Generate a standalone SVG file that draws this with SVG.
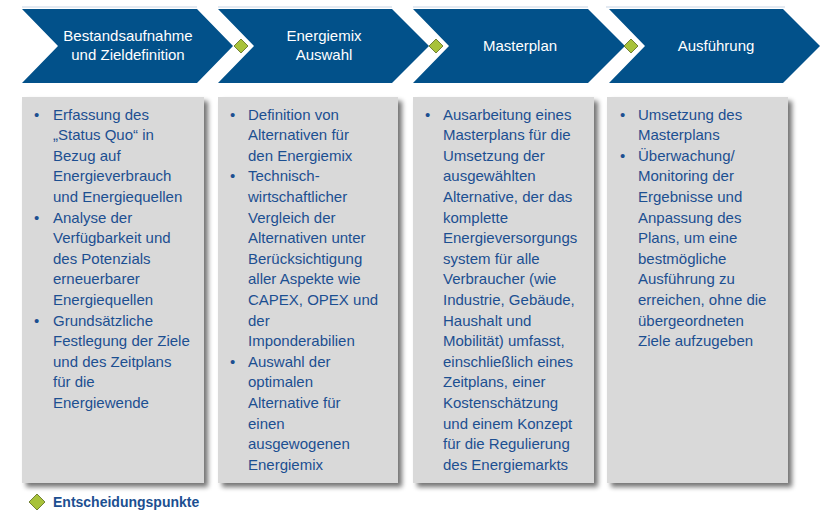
<svg xmlns="http://www.w3.org/2000/svg" width="820" height="512" viewBox="0 0 820 512">
<defs>
<filter id="sh" x="-10%" y="-10%" width="125%" height="125%">
<feGaussianBlur in="SourceAlpha" stdDeviation="2.5"/>
<feOffset dx="4" dy="4" result="b"/>
<feComponentTransfer><feFuncA type="linear" slope="0.55"/></feComponentTransfer>
<feMerge><feMergeNode/><feMergeNode in="SourceGraphic"/></feMerge>
</filter>
</defs>
<style>
.chev{fill:#02518a}
.topline{stroke:#c9d6e6;stroke-width:1.2}
.hd{font-family:"Liberation Sans",Arial,sans-serif;font-size:15px;fill:#ffffff;text-anchor:middle}
.box{fill:#d9d9d9}
.tx{font-family:"Liberation Sans",Arial,sans-serif;font-size:15px;fill:#1c4f91}
.dm{fill:#a8c23a;stroke:#5b6a1c;stroke-width:0.8}
.lg{font-family:"Liberation Sans",Arial,sans-serif;font-size:14px;font-weight:bold;fill:#1c4f91}
</style>
<rect width="820" height="512" fill="#ffffff"/>
<g id="toplines">
<line class="topline" x1="22" y1="7" x2="197" y2="7"/>
<line class="topline" x1="218" y1="7" x2="392" y2="7"/>
<line class="topline" x1="413" y1="7" x2="588" y2="7"/>
<line class="topline" x1="606" y1="7" x2="785" y2="7"/>
</g>
<g id="phase1">
<polygon class="chev" points="22,9 197,9 233,46 197,83 22,83 58,46"/>
<text class="hd" x="128" y="41">Bestandsaufnahme</text>
<text class="hd" x="128" y="60">und Zieldefinition</text>
</g>
<g id="phase2">
<polygon class="chev" points="218,9 392,9 429,46 392,83 218,83 254,46"/>
<text class="hd" x="324" y="41">Energiemix</text>
<text class="hd" x="324" y="60">Auswahl</text>
</g>
<g id="phase3">
<polygon class="chev" points="413,9 588,9 625,46 588,83 413,83 449,46"/>
<text class="hd" x="520" y="51">Masterplan</text>
</g>
<g id="phase4">
<polygon class="chev" points="609,9 783,9 820,46 783,83 609,83 645,46"/>
<text class="hd" x="716" y="51">Ausführung</text>
</g>
<g id="decisions">
<polygon class="dm" points="241,39 248,46 241,53 234,46"/>
<polygon class="dm" points="436,39 443,46 436,53 429,46"/>
<polygon class="dm" points="631,39 638,46 631,53 624,46"/>
</g>
<g id="box1">
<rect class="box" x="22" y="97" width="182" height="386" filter="url(#sh)"/>
<text class="tx" x="53" y="119.5">
<tspan x="53">Erfassung des</tspan>
<tspan x="53" dy="20.6">„Status Quo“ in</tspan>
<tspan x="53" dy="20.6">Bezug auf</tspan>
<tspan x="53" dy="20.6">Energieverbrauch</tspan>
<tspan x="53" dy="20.6">und Energiequellen</tspan>
<tspan x="53" dy="20.6">Analyse der</tspan>
<tspan x="53" dy="20.6">Verfügbarkeit und</tspan>
<tspan x="53" dy="20.6">des Potenzials</tspan>
<tspan x="53" dy="20.6">erneuerbarer</tspan>
<tspan x="53" dy="20.6">Energiequellen</tspan>
<tspan x="53" dy="20.6">Grundsätzliche</tspan>
<tspan x="53" dy="20.6">Festlegung der Ziele</tspan>
<tspan x="53" dy="20.6">und des Zeitplans</tspan>
<tspan x="53" dy="20.6">für die</tspan>
<tspan x="53" dy="20.6">Energiewende</tspan>
</text>
<text class="tx" x="34" y="119.5">•</text>
<text class="tx" x="34" y="222.5">•</text>
<text class="tx" x="34" y="325.5">•</text>
</g>
<g id="box2">
<rect class="box" x="218" y="97" width="180" height="386" filter="url(#sh)"/>
<text class="tx" x="248" y="119.5">
<tspan x="248">Definition von</tspan>
<tspan x="248" dy="20.6">Alternativen für</tspan>
<tspan x="248" dy="20.6">den Energiemix</tspan>
<tspan x="248" dy="20.6">Technisch-</tspan>
<tspan x="248" dy="20.6">wirtschaftlicher</tspan>
<tspan x="248" dy="20.6">Vergleich der</tspan>
<tspan x="248" dy="20.6">Alternativen unter</tspan>
<tspan x="248" dy="20.6">Berücksichtigung</tspan>
<tspan x="248" dy="20.6">aller Aspekte wie</tspan>
<tspan x="248" dy="20.6">CAPEX, OPEX und</tspan>
<tspan x="248" dy="20.6">der</tspan>
<tspan x="248" dy="20.6">Imponderabilien</tspan>
<tspan x="248" dy="20.6">Auswahl der</tspan>
<tspan x="248" dy="20.6">optimalen</tspan>
<tspan x="248" dy="20.6">Alternative für</tspan>
<tspan x="248" dy="20.6">einen</tspan>
<tspan x="248" dy="20.6">ausgewogenen</tspan>
<tspan x="248" dy="20.6">Energiemix</tspan>
</text>
<text class="tx" x="230" y="119.5">•</text>
<text class="tx" x="230" y="181.3">•</text>
<text class="tx" x="230" y="366.7">•</text>
</g>
<g id="box3">
<rect class="box" x="413" y="97" width="181" height="386" filter="url(#sh)"/>
<text class="tx" x="443" y="119.5">
<tspan x="443">Ausarbeitung eines</tspan>
<tspan x="443" dy="20.6">Masterplans für die</tspan>
<tspan x="443" dy="20.6">Umsetzung der</tspan>
<tspan x="443" dy="20.6">ausgewählten</tspan>
<tspan x="443" dy="20.6">Alternative, der das</tspan>
<tspan x="443" dy="20.6">komplette</tspan>
<tspan x="443" dy="20.6">Energieversorgungs</tspan>
<tspan x="443" dy="20.6">system für alle</tspan>
<tspan x="443" dy="20.6">Verbraucher (wie</tspan>
<tspan x="443" dy="20.6">Industrie, Gebäude,</tspan>
<tspan x="443" dy="20.6">Haushalt und</tspan>
<tspan x="443" dy="20.6">Mobilität) umfasst,</tspan>
<tspan x="443" dy="20.6">einschließlich eines</tspan>
<tspan x="443" dy="20.6">Zeitplans, einer</tspan>
<tspan x="443" dy="20.6">Kostenschätzung</tspan>
<tspan x="443" dy="20.6">und einem Konzept</tspan>
<tspan x="443" dy="20.6">für die Regulierung</tspan>
<tspan x="443" dy="20.6">des Energiemarkts</tspan>
</text>
<text class="tx" x="425" y="119.5">•</text>
</g>
<g id="box4">
<rect class="box" x="607" y="97" width="181" height="386" filter="url(#sh)"/>
<text class="tx" x="638" y="119.5">
<tspan x="638">Umsetzung des</tspan>
<tspan x="638" dy="20.6">Masterplans</tspan>
<tspan x="638" dy="20.6">Überwachung/</tspan>
<tspan x="638" dy="20.6">Monitoring der</tspan>
<tspan x="638" dy="20.6">Ergebnisse und</tspan>
<tspan x="638" dy="20.6">Anpassung des</tspan>
<tspan x="638" dy="20.6">Plans, um eine</tspan>
<tspan x="638" dy="20.6">bestmögliche</tspan>
<tspan x="638" dy="20.6">Ausführung zu</tspan>
<tspan x="638" dy="20.6">erreichen, ohne die</tspan>
<tspan x="638" dy="20.6">übergeordneten</tspan>
<tspan x="638" dy="20.6">Ziele aufzugeben</tspan>
</text>
<text class="tx" x="620" y="119.5">•</text>
<text class="tx" x="620" y="160.7">•</text>
</g>
<g id="legend">
<polygon class="dm" points="37,494 45,502 37,510 29,502"/>
<text class="lg" x="53" y="506.5">Entscheidungspunkte</text>
</g>
</svg>
